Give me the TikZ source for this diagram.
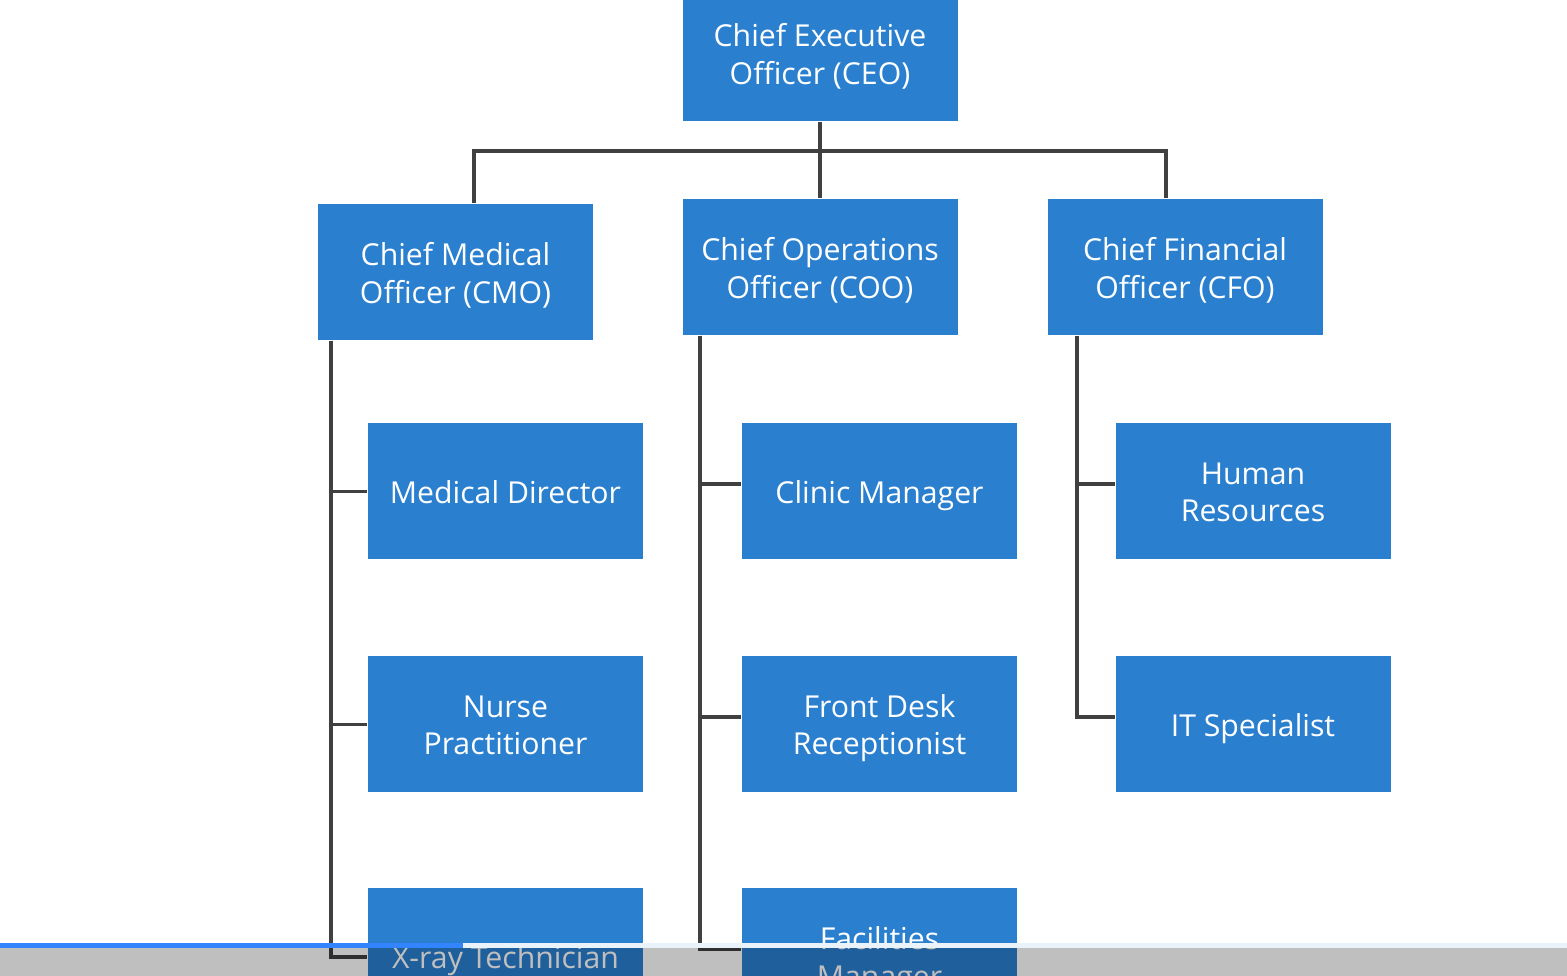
\documentclass[tikz,border=0pt]{standalone}
\usepackage{fontspec}
\setmainfont{Open Sans}
\definecolor{boxblue}{HTML}{2A7FCF}
\definecolor{linegray}{HTML}{404040}
\newcommand{\roletext}[1]{\raisebox{0pt}[8.6pt][1.3pt]{\begin{tabular}{@{}c@{}}#1\end{tabular}}}
\begin{document}
\begin{tikzpicture}[
		role/.style={rectangle, fill=boxblue, text=white, minimum width=2.75cm, minimum height=1.36cm, inner sep=0pt, font=\fontsize{8.6}{10.8}\selectfont},
		link/.style={draw=linegray, line width=1.1pt}
	]
		\useasboundingbox (0,0) rectangle (15.67,-9.76);
		\clip (0,0) rectangle (15.67,-9.76);
		\fill[white] (0,0) rectangle (15.67,-9.76);
		% top level
		\node[role] (ceo) at (8.20,-0.53) {\roletext{Chief Executive\\Officer (CEO)}};
		\node[role] (cmo) at (4.555,-2.72) {\roletext{Chief Medical\\Officer (CMO)}};
		\node[role] (coo) at (8.20,-2.67) {\roletext{Chief Operations\\Officer (COO)}};
		\node[role] (cfo) at (11.85,-2.67) {\roletext{Chief Financial\\Officer (CFO)}};
		% staff
		\node[role] (meddir) at (5.055,-4.905) {\roletext{Medical Director}};
		\node[role] (nurse) at (5.055,-7.235) {\roletext{Nurse\\Practitioner}};
		\node[role] (xray) at (5.055,-9.56) {\roletext{X-ray Technician}};
		\node[role] (clinic) at (8.795,-4.905) {\roletext{Clinic Manager}};
		\node[role] (desk) at (8.795,-7.235) {\roletext{Front Desk\\Receptionist}};
		\node[role] (facil) at (8.795,-9.56) {\roletext{Facilities\\Manager}};
		\node[role] (hr) at (12.53,-4.905) {\roletext{Human\\Resources}};
		\node[role] (it) at (12.53,-7.235) {\roletext{IT Specialist}};
		% connectors
		\coordinate (bus) at (8.20,-1.51);
		\draw[link] (ceo.south) -- (coo.north);
		\draw[link] ([xshift=1.85mm]cmo.north) |- (bus) -| ([xshift=-1.9mm]cfo.north);
		\foreach \b in {meddir,nurse,xray}
			\draw[link] ([xshift=1.4mm]cmo.south west) |- ([yshift=-0.1mm]\b.west);
		\foreach \b in {clinic,desk,facil}
			\draw[link] ([xshift=1.8mm]coo.south west) |- ([yshift=0.65mm]\b.west);
		\foreach \b in {hr,it}
			\draw[link] ([xshift=3mm]cfo.south west) |- ([yshift=0.65mm]\b.west);
		% player bar
		\fill[black, opacity=0.25] (0,-9.48) rectangle (15.67,-9.76);
		\fill[blue!60!cyan!80!white] (0,-9.43) rectangle (4.63,-9.48);
		\fill[white!90!boxblue] (4.63,-9.43) rectangle (15.67,-9.48);
	\end{tikzpicture}
\end{document}
